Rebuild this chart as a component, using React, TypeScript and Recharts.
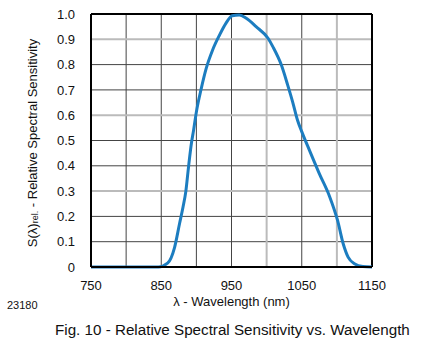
import { CartesianGrid, Line, LineChart, ReferenceLine, XAxis, YAxis } from "recharts"

// wavelength (nm) vs relative sensitivity
const wavelengths = [
  750, 800, 846, 859, 869, 876, 881, 885, 889, 893, 896, 900, 907, 914, 923,
  933, 942, 951, 961, 971, 985, 1002, 1009, 1021, 1030, 1037, 1044, 1050,
  1061, 1075, 1090, 1101, 1109, 1116, 1125, 1137, 1150,
]
const sensitivity = [
  0, 0, 0, 0.015, 0.078, 0.171, 0.237, 0.299, 0.4, 0.49, 0.54, 0.613, 0.706,
  0.785, 0.857, 0.917, 0.963, 0.993, 0.996, 0.983, 0.95, 0.904, 0.87, 0.798,
  0.719, 0.653, 0.58, 0.535, 0.461, 0.369, 0.276, 0.184, 0.092, 0.039, 0.013,
  0.002, 0,
]

const xTicks = [750, 850, 950, 1050, 1150]
const yTicks = [0, 0.1, 0.2, 0.3, 0.4, 0.5, 0.6, 0.7, 0.8, 0.9, 1.0]
const darkX = [800, 850, 900, 950, 1050]
const lightX = [1000, 1100]
const darkY = [0.1, 0.2, 0.4, 0.5, 0.7, 0.8]
const lightY = [0.3, 0.6, 0.9]

const data = wavelengths.map((wl, i) => ({ wl, s: sensitivity[i] }))

const font = "'Liberation Sans', Arial, sans-serif"
const tickStyle = { fontSize: 13, fill: "#111", fontFamily: font }

function YLabel() {
  return (
    <text
      x={32}
      y={143}
      transform="rotate(-90, 32, 143)"
      textAnchor="middle"
      dominantBaseline="central"
      fontSize={13}
      fontFamily={font}
      fill="#111"
    >
      S(λ)
      <tspan fontSize={9} dy={3}>
        rel.
      </tspan>
      <tspan dy={-3}> - Relative Spectral Sensitivity</tspan>
    </text>
  )
}

export default function App() {
  return (
    <div
      style={{
        position: "absolute",
        left: 0,
        top: 0,
        width: 426,
        height: 349,
        background: "#fff",
        fontFamily: font,
        color: "#111",
      }}
    >
      <LineChart
        width={426}
        height={310}
        data={data}
        margin={{ top: 14, right: 54, bottom: 13, left: 31 }}
      >
        <CartesianGrid stroke="none" />
        {darkX.map((v) => (
          <ReferenceLine key={`dx${v}`} x={v} stroke="#444" strokeWidth={1} />
        ))}
        {darkY.map((v) => (
          <ReferenceLine key={`dy${v}`} y={v} stroke="#444" strokeWidth={1} />
        ))}
        {lightX.map((v) => (
          <ReferenceLine key={`lx${v}`} x={v} stroke="#bbb" strokeWidth={2} />
        ))}
        {lightY.map((v) => (
          <ReferenceLine key={`ly${v}`} y={v} stroke="#bbb" strokeWidth={2} />
        ))}
        <ReferenceLine y={1} stroke="#000" strokeWidth={2} />
        <ReferenceLine x={1150} stroke="#000" strokeWidth={2} />
        <XAxis
          dataKey="wl"
          type="number"
          domain={[750, 1150]}
          ticks={xTicks}
          height={30}
          tickLine={false}
          axisLine={{ stroke: "#000", strokeWidth: 2 }}
          tick={tickStyle}
          tickMargin={8}
        />
        <YAxis
          type="number"
          domain={[0, 1]}
          ticks={yTicks}
          width={60}
          tickLine={false}
          axisLine={{ stroke: "#000", strokeWidth: 2 }}
          tick={tickStyle}
          tickMargin={10}
          tickFormatter={(v: number) => (v === 0 ? "0" : v.toFixed(1))}
          label={<YLabel />}
        />
        <Line
          type="monotone"
          dataKey="s"
          stroke="#1c7dc0"
          strokeWidth={3}
          dot={false}
          isAnimationActive={false}
        />
      </LineChart>
      <div
        style={{
          position: "absolute",
          left: 0,
          width: 463,
          top: 294,
          textAlign: "center",
          fontSize: 13,
        }}
      >
        λ - Wavelength (nm)
      </div>
      <div style={{ position: "absolute", left: 7, top: 299, fontSize: 11 }}>
        23180
      </div>
      <div
        style={{
          position: "absolute",
          left: 55,
          top: 321,
          fontSize: 15.2,
          whiteSpace: "nowrap",
        }}
      >
        Fig. 10 - Relative Spectral Sensitivity vs. Wavelength
      </div>
    </div>
  )
}
